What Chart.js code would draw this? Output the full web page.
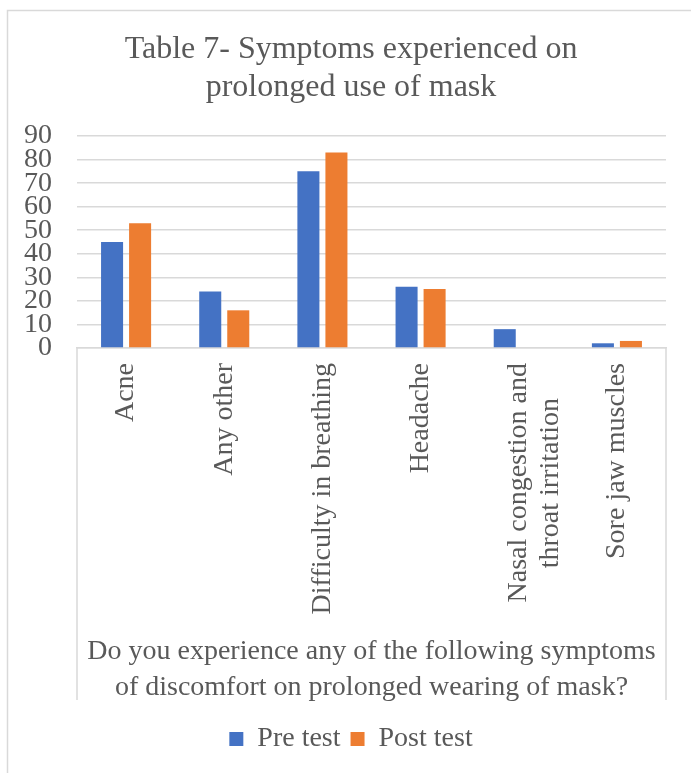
<!DOCTYPE html>
<html>
<head>
<meta charset="utf-8">
<script src="https://cdn.jsdelivr.net/npm/chart.js@4/dist/chart.umd.min.js"></script>
<style>
  html, body { margin: 0; padding: 0; background: #ffffff; }
  #wrap { width: 691px; height: 773px; position: relative; }
</style>
</head>
<body>
<div id="wrap"><canvas id="chart" width="691" height="773"></canvas></div>
<script>
// Survey answers: symptoms reported before and after the intervention
const categories = [
  'Acne',
  'Any other',
  'Difficulty in breathing',
  'Headache',
  // second line padded so it sits centred under the first
  ['Nasal congestion and', 'throat irritation     '],
  'Sore jaw muscles'
];
const preTest = [45, 24, 75, 26, 8, 2];
const postTest = [53, 16, 83, 25, 0, 3];
const yTicks = [0, 10, 20, 30, 40, 50, 60, 70, 80, 90];

const TEXT = '#595959';
const GRID = '#d9d9d9';
const SERIF = "'Liberation Serif', 'Times New Roman', serif";

// Outer chart frame plus the box round the category label area
const framePlugin = {
  id: 'frame',
  afterLayout(chart) {
    // centre the title and legend over the plot rather than the whole canvas
    if (chart.titleBlock) chart.titleBlock.left += 36;
    if (chart.legend) chart.legend.left += 36;
  },
  beforeDraw(chart) {
    const ctx = chart.ctx;
    ctx.save();
    ctx.fillStyle = '#ffffff';
    ctx.fillRect(0, 0, chart.width, chart.height);
    ctx.strokeStyle = GRID;
    ctx.lineWidth = 1.5;
    ctx.strokeRect(7.5, 10.5, chart.width + 20, chart.height + 20);
    ctx.restore();
  },
  afterDraw(chart) {
    const ctx = chart.ctx;
    const a = chart.chartArea;
    ctx.save();
    ctx.strokeStyle = GRID;
    ctx.lineWidth = 1.5;
    ctx.beginPath();
    ctx.moveTo(a.left, a.bottom);
    ctx.lineTo(a.left, 700);
    ctx.moveTo(a.right, a.bottom);
    ctx.lineTo(a.right, 700);
    ctx.stroke();
    ctx.restore();
  }
};

new Chart(document.getElementById('chart'), {
  type: 'bar',
  data: {
    labels: categories,
    datasets: [
      { label: 'Pre test', data: preTest, backgroundColor: '#4472C4' },
      { label: 'Post test', data: postTest, backgroundColor: '#ED7D31' }
    ]
  },
  options: {
    responsive: false,
    animation: false,
    devicePixelRatio: 1,
    layout: { padding: { left: 0, right: 25, top: 0, bottom: 10 } },
    datasets: { bar: { categoryPercentage: 0.571, barPercentage: 0.786 } },
    plugins: {
      tooltip: { enabled: false },
      title: {
        display: true,
        text: ['Table 7- Symptoms experienced on', 'prolonged use of mask'],
        color: TEXT,
        font: { family: SERIF, size: 32, weight: 'normal', lineHeight: 1.16 },
        padding: { top: 31.5, bottom: 30.3 }
      },
      legend: {
        position: 'bottom',
        labels: {
          color: TEXT,
          font: { family: SERIF, size: 28 },
          boxWidth: 14,
          boxHeight: 14,
          padding: 10
        }
      }
    },
    scales: {
      x: {
        grid: { display: false, drawTicks: false },
        border: { display: true, color: GRID, width: 1.5 },
        ticks: {
          color: TEXT,
          font: { family: SERIF, size: 28, lineHeight: 1.14 },
          minRotation: 90,
          maxRotation: 90,
          padding: 15,
          autoSkip: false
        },
        title: {
          display: true,
          text: ['Do you experience any of the following symptoms', 'of discomfort on prolonged wearing of mask?'],
          color: TEXT,
          font: { family: SERIF, size: 28, lineHeight: 1.286 },
          padding: { top: 0, bottom: 9 }
        },
        afterFit(scale) { scale.height = 367; }
      },
      y: {
        min: 0,
        max: 90,
        afterBuildTicks(scale) { scale.ticks = yTicks.map(v => ({ value: v })); },
        grid: { color: GRID, lineWidth: 1.5, drawTicks: false },
        border: { display: false },
        ticks: {
          color: TEXT,
          font: { family: SERIF, size: 28, lineHeight: 1 },
          padding: 25,
          autoSkip: false
        },
        afterFit(scale) { scale.width = 77; }
      }
    }
  },
  plugins: [framePlugin]
});
</script>
</body>
</html>
